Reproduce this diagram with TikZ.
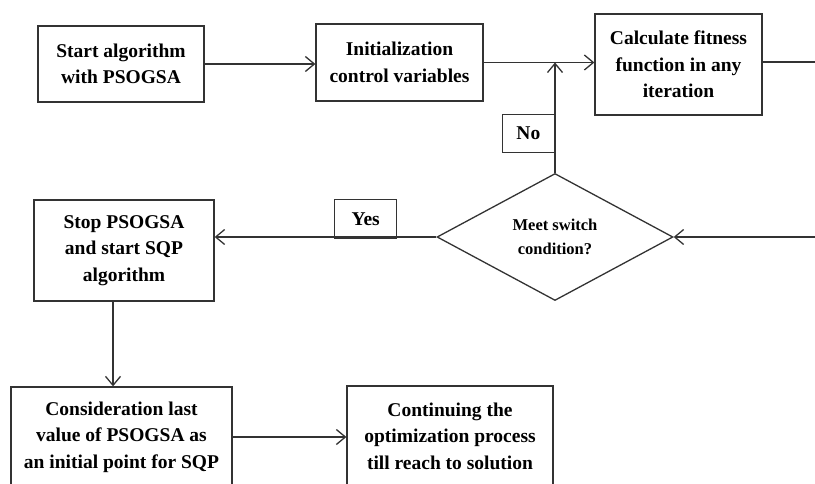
\documentclass[tikz,border=0pt]{standalone}
\usepackage{fontspec}
\setmainfont{Liberation Serif}
\usetikzlibrary{arrows.meta,shapes.geometric,positioning}

\tikzset{
  flowbox/.style={draw=black!80, line width=1.3pt, align=center,
                  font=\bfseries\fontsize{19.5}{26.5}\selectfont, inner sep=2pt},
  tagbox/.style={draw=black!80, line width=1.3pt,
                 font=\bfseries\fontsize{19.5}{24}\selectfont, inner sep=0pt},
  flowline/.style={draw=black!80, line width=1.3pt},
}

\begin{document}
\begin{tikzpicture}[x=1pt, y=-1pt, >={Straight Barb[length=9pt,width=15pt]}]
    \useasboundingbox (0,0) rectangle (815,484);

    % draw boxes of the first row
    \node (start) at (121,64) [flowbox, minimum width=166pt, minimum height=76pt] {Start algorithm\\with PSOGSA};
    \node (init)  at (399.5,62.5) [flowbox, minimum width=167pt, minimum height=77pt] {Initialization\\control variables};
    \node (calc)  at (678.5,64.5) [flowbox, minimum width=167pt, minimum height=101pt] {Calculate fitness\\function in any\\iteration};
    \coordinate (rightA) at (815,62);
    \coordinate (rightB) at (815,237);

    % draw decision and second row
    \node (dec) at (555,237) [draw=black!80, line width=1.3pt, diamond, aspect=1.86, inner sep=0pt,
         minimum width=236pt, minimum height=127pt, align=center,
         font=\bfseries\fontsize{16.5}{24}\selectfont] {Meet switch\\condition?};
    \node (stop) at (124,250.5) [flowbox, minimum width=180pt, minimum height=101pt] {Stop PSOGSA\\and start SQP\\algorithm};

    % draw boxes of the last row
    \node (cons) at (121.5,437) [flowbox, minimum width=221pt, minimum height=100pt] {Consideration last\\value of PSOGSA as\\an initial point for SQP};
    \node (cont) at (450,436) [flowbox, minimum width=206pt, minimum height=100pt] {Continuing the\\optimization process\\till reach to solution};

    % draw labels on the branches
    \node (no)  [tagbox, minimum width=52pt, minimum height=38pt, above left=20pt and 0pt of dec.north] {No};
    \node (yes) [tagbox, minimum width=62pt, minimum height=39pt, above left=-2pt and 39pt of dec.west] {Yes};

    % draw connectors
    \draw [flowline, ->] (start.east) -- (start.east -| init.west);
    \draw [flowline, ->] (init.east) -- (init.east -| calc.west);
    \draw [flowline] (calc.east |- rightA) -- (rightA);
    \draw [flowline, ->] (dec.north) -- (dec.north |- init.east);
    \draw [flowline, ->] (rightB) -- (dec.east);
    \draw [flowline, ->] (dec.west) -- (dec.west -| stop.east);
    \draw [flowline, ->] ([xshift=-11pt]stop.south) -- ([xshift=-11pt]stop.south |- cons.north);
    \draw [flowline, ->] (cons.east) -- (cons.east -| cont.west);
\end{tikzpicture}
\end{document}
